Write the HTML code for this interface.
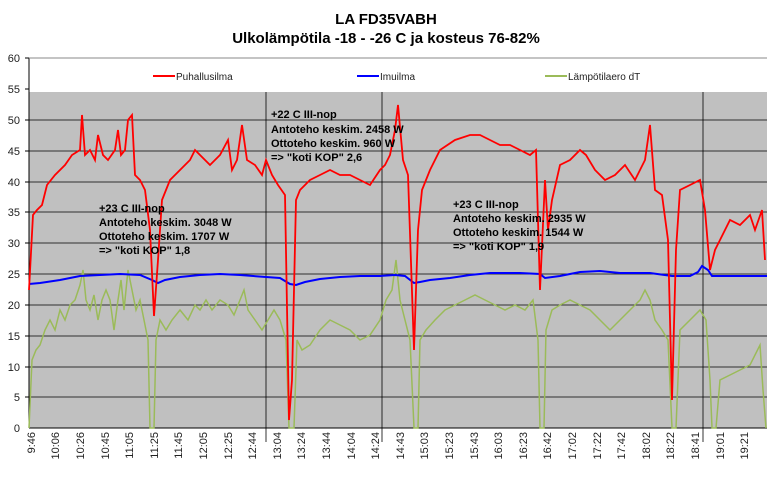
<!DOCTYPE html><html><head><style>body{margin:0;background:#fff;font-family:"Liberation Sans",sans-serif}</style></head><body>
<svg width="772" height="472" xmlns="http://www.w3.org/2000/svg" font-family="Liberation Sans, sans-serif">
<rect x="0" y="0" width="772" height="472" fill="#fff"/>
<text x="386" y="24" font-size="15" font-weight="bold" text-anchor="middle">LA FD35VABH</text>
<text x="386" y="43" font-size="15" font-weight="bold" text-anchor="middle">Ulkolämpötila -18 - -26 C ja kosteus 76-82%</text>
<rect x="29" y="92" width="738" height="336" fill="#c0c0c0"/>
<line x1="29" y1="58" x2="29" y2="428" stroke="#000"/>
<line x1="29" y1="428" x2="767" y2="428" stroke="#000"/>
<line x1="29" y1="58" x2="767" y2="58" stroke="#888"/>
<g stroke="#000" stroke-width="0.8">
<line x1="29" y1="120" x2="767" y2="120"/><line x1="29" y1="151" x2="767" y2="151"/><line x1="29" y1="182" x2="767" y2="182"/><line x1="29" y1="212" x2="767" y2="212"/><line x1="29" y1="243" x2="767" y2="243"/><line x1="29" y1="274" x2="767" y2="274"/><line x1="29" y1="305" x2="767" y2="305"/><line x1="29" y1="336" x2="767" y2="336"/><line x1="29" y1="367" x2="767" y2="367"/><line x1="29" y1="397" x2="767" y2="397"/>
<line x1="266" y1="92" x2="266" y2="442"/><line x1="382" y1="92" x2="382" y2="442"/><line x1="703" y1="92" x2="703" y2="442"/>
</g>
<g stroke="#000" stroke-width="1">
<line x1="25" y1="58" x2="29" y2="58"/><line x1="25" y1="89" x2="29" y2="89"/><line x1="25" y1="120" x2="29" y2="120"/><line x1="25" y1="151" x2="29" y2="151"/><line x1="25" y1="182" x2="29" y2="182"/><line x1="25" y1="212" x2="29" y2="212"/><line x1="25" y1="243" x2="29" y2="243"/><line x1="25" y1="274" x2="29" y2="274"/><line x1="25" y1="305" x2="29" y2="305"/><line x1="25" y1="336" x2="29" y2="336"/><line x1="25" y1="367" x2="29" y2="367"/><line x1="25" y1="397" x2="29" y2="397"/>
</g>
<g font-size="11" fill="#222" text-anchor="end">
<text x="20" y="62">60</text><text x="20" y="93">55</text><text x="20" y="124">50</text><text x="20" y="155">45</text><text x="20" y="186">40</text><text x="20" y="216">35</text><text x="20" y="247">30</text><text x="20" y="278">25</text><text x="20" y="309">20</text><text x="20" y="340">15</text><text x="20" y="371">10</text><text x="20" y="401">5</text><text x="20" y="432">0</text>
</g>
<g font-size="11" fill="#222" text-anchor="end">
<text transform="translate(35,432) rotate(-90)">9:46</text><text transform="translate(59,432) rotate(-90)">10:06</text><text transform="translate(84,432) rotate(-90)">10:26</text><text transform="translate(109,432) rotate(-90)">10:45</text><text transform="translate(133,432) rotate(-90)">11:05</text><text transform="translate(158,432) rotate(-90)">11:25</text><text transform="translate(182,432) rotate(-90)">11:45</text><text transform="translate(207,432) rotate(-90)">12:05</text><text transform="translate(232,432) rotate(-90)">12:25</text><text transform="translate(256,432) rotate(-90)">12:44</text><text transform="translate(281,432) rotate(-90)">13:04</text><text transform="translate(305,432) rotate(-90)">13:24</text><text transform="translate(330,432) rotate(-90)">13:44</text><text transform="translate(355,432) rotate(-90)">14:04</text><text transform="translate(379,432) rotate(-90)">14:24</text><text transform="translate(404,432) rotate(-90)">14:43</text><text transform="translate(428,432) rotate(-90)">15:03</text><text transform="translate(453,432) rotate(-90)">15:23</text><text transform="translate(478,432) rotate(-90)">15:43</text><text transform="translate(502,432) rotate(-90)">16:03</text><text transform="translate(527,432) rotate(-90)">16:23</text><text transform="translate(551,432) rotate(-90)">16:42</text><text transform="translate(576,432) rotate(-90)">17:02</text><text transform="translate(601,432) rotate(-90)">17:22</text><text transform="translate(625,432) rotate(-90)">17:42</text><text transform="translate(650,432) rotate(-90)">18:02</text><text transform="translate(674,432) rotate(-90)">18:22</text><text transform="translate(699,432) rotate(-90)">18:41</text><text transform="translate(724,432) rotate(-90)">19:01</text><text transform="translate(748,432) rotate(-90)">19:21</text>
</g>
<polyline fill="none" stroke="#9bbb59" stroke-width="1.5" points="29,428 32,360 36,350 40,345 45,330 50,320 55,330 60,310 65,320 70,305 75,300 80,285 83,270 86,300 90,310 94,295 98,320 102,300 106,290 110,300 114,330 118,300 121,280 124,310 128,270 132,290 136,310 140,300 144,320 148,340 150,428 154,428 156,340 160,320 166,330 172,320 180,310 188,320 195,305 200,310 206,300 212,310 220,300 228,305 234,315 240,300 244,290 248,310 255,320 262,330 268,320 274,310 280,320 286,340 289,428 294,428 297,340 302,350 310,345 320,330 330,320 340,325 350,330 360,340 370,335 380,320 386,300 392,290 396,260 400,300 405,320 410,340 414,428 418,428 420,340 426,330 435,320 445,310 455,305 465,300 475,295 485,300 495,305 505,310 515,305 525,310 533,300 538,340 540,428 544,428 546,330 552,310 560,305 570,300 580,305 590,310 600,320 610,330 620,320 630,310 640,300 645,290 650,300 655,320 662,330 668,340 672,428 676,428 680,330 690,320 700,310 706,320 710,380 712,428 716,428 720,380 730,375 740,370 750,365 755,355 760,345 763,390 766,428"/>
<polyline fill="none" stroke="#0000ff" stroke-width="2" points="29,284 40,283 60,280 80,276 100,275 120,274 140,275 152,280 158,283 165,280 180,277 200,275 220,274 240,275 266,277 280,278 290,284 296,285 305,282 320,279 340,277 360,276 380,276 395,275 405,276 414,283 420,282 430,280 450,278 470,275 490,273 520,273 540,274 545,278 560,276 580,272 600,271 620,273 650,273 672,276 690,276 698,272 702,266 708,270 712,276 730,276 767,276"/>
<polyline fill="none" stroke="#ff0000" stroke-width="1.8" points="29,290 33,215 37,210 42,205 47,185 55,175 65,165 72,155 80,150 82,115 85,155 90,150 95,160 98,135 103,155 108,160 115,150 118,130 121,155 125,150 128,120 132,115 135,175 140,180 145,190 150,230 154,316 158,260 162,200 170,180 180,170 190,160 195,150 200,155 210,165 220,155 228,140 232,170 237,160 242,125 247,160 255,165 262,175 266,160 272,175 278,185 285,195 289,420 292,380 296,200 300,190 310,180 320,175 330,170 340,175 350,175 360,180 370,185 380,170 385,165 390,155 395,130 398,105 403,160 408,175 414,350 418,230 422,190 430,170 440,150 455,140 470,135 480,135 490,140 500,145 510,145 520,150 530,155 536,150 540,290 545,180 548,230 552,200 560,165 570,160 580,150 586,155 595,170 605,180 615,175 625,165 635,180 645,160 650,125 655,190 662,195 668,240 672,400 676,250 680,190 690,185 700,180 705,210 710,270 715,250 720,240 730,220 740,225 750,215 755,230 762,210 765,260"/>
<g font-size="10" fill="#222">
<line x1="153" y1="76" x2="175" y2="76" stroke="#ff0000" stroke-width="2"/><text x="176" y="80">Puhallusilma</text>
<line x1="357" y1="76" x2="379" y2="76" stroke="#0000ff" stroke-width="2"/><text x="380" y="80">Imuilma</text>
<line x1="545" y1="76" x2="567" y2="76" stroke="#9bbb59" stroke-width="2"/><text x="568" y="80">Lämpötilaero dT</text>
</g>
<g font-size="11" font-weight="bold" fill="#000">
<text x="271" y="118">+22 C III-nop</text><text x="271" y="133">Antoteho keskim. 2458 W</text><text x="271" y="147">Ottoteho keskim. 960 W</text><text x="271" y="161">=&gt; "koti KOP" 2,6</text>
<text x="99" y="212">+23 C III-nop</text><text x="99" y="226">Antoteho keskim. 3048 W</text><text x="99" y="240">Ottoteho keskim. 1707 W</text><text x="99" y="254">=&gt; "koti KOP" 1,8</text>
<text x="453" y="208">+23 C III-nop</text><text x="453" y="222">Antoteho keskim. 2935 W</text><text x="453" y="236">Ottoteho keskim. 1544 W</text><text x="453" y="250">=&gt; "koti KOP" 1,9</text>
</g>
</svg></body></html>
